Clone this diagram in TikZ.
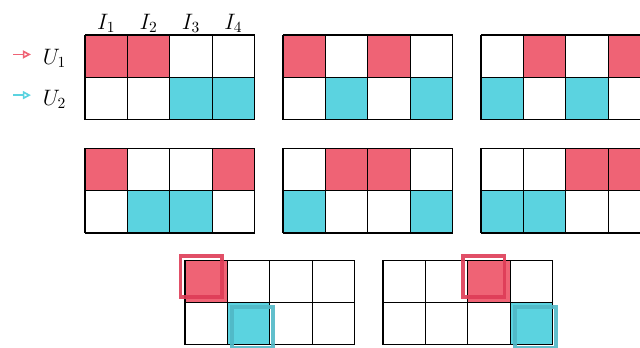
\documentclass[tikz,border=0pt]{standalone}
\usepackage{amsmath}
\usepackage{xcolor}
\usepackage{tikz}
\usetikzlibrary{arrows.meta}

\definecolor{ured}{RGB}{239,99,117}
\definecolor{ucyan}{RGB}{91,211,224}
\definecolor{uredframe}{RGB}{222,60,86}
\definecolor{ucyanframe}{RGB}{80,184,198}

\begin{document}
\begin{tikzpicture}[x=1cm,y=1cm,
  cellgrid/.style={line width=0.8pt},
  redframe/.style={draw=uredframe,line width=2.6pt,draw opacity=0.9},
  cyanframe/.style={draw=ucyanframe,line width=2.6pt,draw opacity=0.9},
  lab/.style={font=\Large,scale=1.04,transform shape}]
  \useasboundingbox (0,0) rectangle (15.094,8.184);
  % legend
  \coordinate (a1) at (0.31,6.90);
  \coordinate (b1) at (0.73,6.90);
  \coordinate (a2) at (0.31,5.94);
  \coordinate (b2) at (0.73,5.94);
  \draw[ured,line width=1.1pt,-{Triangle[open,length=5.5pt,width=5.5pt]}] (a1) -- (b1);
  \draw[ucyan,line width=1.1pt,-{Triangle[open,length=5.5pt,width=5.5pt]}] (a2) -- (b2);
  \node[lab] (u1) at (1.285,6.81) {$U_1$};
  \node[lab] (u2) at (1.285,5.84) {$U_2$};
  % column labels
  \foreach \k in {1,...,4}
    \node[lab] (i\k) at (2.005+\k-0.5,7.63) {$I_{\k}$};
  % the eight assignments
  \foreach \gx/\gy/\rs/\cs in {2.005/5.36/{1,2}/{3,4},6.675/5.36/{1,3}/{2,4},11.345/5.36/{2,4}/{1,3},
      2.005/2.69/{1,4}/{2,3},6.675/2.69/{2,3}/{1,4},11.345/2.69/{3,4}/{1,2},
      4.363/0.05/{1}/{2},9.033/0.05/{3}/{4}}{
    \begin{scope}[shift={(\gx,\gy)}]
      \foreach \rc in \rs \fill[ured] (\rc-1,1) rectangle ++(1,1);
      \foreach \cc in \cs \fill[ucyan] (\cc-1,0) rectangle ++(1,1);
      \draw[cellgrid] (0,0) grid (4,2);
    \end{scope}
  }
  % moved cells
  \foreach \gx/\rc/\cc in {4.363/1/2,9.033/3/4}{
    \begin{scope}[shift={(\gx,0.05)}]
      \draw[redframe] (\rc-1.105,1.135) rectangle ++(0.97,0.97);
      \draw[cyanframe] (\cc-0.895,-0.075) rectangle ++(0.97,0.97);
    \end{scope}
  }
\end{tikzpicture}
\end{document}
